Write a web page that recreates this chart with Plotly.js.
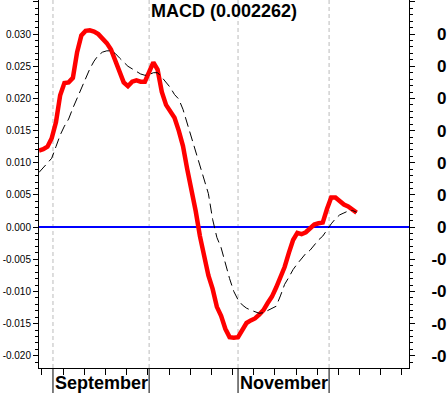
<!DOCTYPE html>
<html><head><meta charset="utf-8">
<script src="https://cdn.plot.ly/plotly-3.0.1.min.js"></script>
<style>html,body{margin:0;padding:0;background:#fff;overflow:hidden}</style>
</head><body><div id="chart" style="width:447px;height:393px"></div>
<script>
// MACD line (red), one value per trading day
const macd = [
  0.0119, 0.0121, 0.0125, 0.0138, 0.0163, 0.0205, 0.0224, 0.0225, 0.0232, 0.0272,
  0.0298, 0.0305, 0.0306, 0.0304, 0.0300, 0.0294, 0.0286, 0.0276, 0.0260, 0.0242,
  0.0225, 0.0219, 0.0226, 0.0228, 0.0226, 0.0226, 0.0242, 0.0256, 0.0245, 0.0210,
  0.0190, 0.0181, 0.0170, 0.0150, 0.0126, 0.0090, 0.0060, 0.0025, -0.0014, -0.0043,
  -0.0075, -0.0096, -0.0124, -0.0138, -0.0158, -0.0171, -0.0172, -0.0171, -0.0160, -0.0149,
  -0.0145, -0.0142, -0.0136, -0.0129, -0.0118, -0.0108, -0.0094, -0.0080, -0.0062, -0.0040,
  -0.0020, -0.0009, -0.0011, -0.0008, -0.0002, 0.0004, 0.0006, 0.0007, 0.0028, 0.0046,
  0.0046, 0.0040, 0.0035, 0.0032, 0.0027, 0.002262
];
// Signal line (black dashed)
const signal = [
  0.0085, 0.0092, 0.0100, 0.0107, 0.0125, 0.0143, 0.0157, 0.0168, 0.0185, 0.0201,
  0.0217, 0.0232, 0.0246, 0.0258, 0.0267, 0.0272, 0.0274, 0.0274, 0.0270, 0.0263,
  0.0256, 0.0250, 0.0246, 0.0242, 0.0238, 0.0236, 0.0237, 0.0240, 0.0240, 0.0233,
  0.0224, 0.0217, 0.0206, 0.0199, 0.0183, 0.0161, 0.0138, 0.0118, 0.0098, 0.0074,
  0.0052, 0.0012, -0.0016, -0.0032, -0.0058, -0.0080, -0.0100, -0.0113, -0.0121, -0.0126,
  -0.0129, -0.0132, -0.0134, -0.0133, -0.0130, -0.0127, -0.0123, -0.0107, -0.0089, -0.0078,
  -0.0066, -0.0057, -0.0049, -0.0041, -0.0036, -0.0028, -0.0020, -0.0014, -0.0004, 0.0005,
  0.0013, 0.0019, 0.0022, 0.0025, 0.0026, 0.0023
];
const titleText = 'MACD (0.002262)';
const yTickVals = [-0.020, -0.015, -0.010, -0.005, 0.000, 0.005, 0.010, 0.015, 0.020, 0.025, 0.030, 0.035];
const yTickText = ['-0.020', '-0.015', '-0.010', '-0.005', '0.000', '0.005', '0.010', '0.015', '0.020', '0.025', '0.030', ''];
const weekTicks = [0.7, 5.7, 10.7, 15.7, 20.7, 25.7, 30.7, 35.7, 40.7, 45.7, 50.7, 55.7, 60.7, 65.7, 70.7, 75.7, 80.7, 85.7];
const monthStarts = [3.3, 26.0, 47.0, 68.5];
const monthLabels = ['September', '', 'November', ''];

const days = macd.map((_, i) => i);
const yRange = [-0.0219, 0.0353];
const xRange = [0, 87.37];
const FONT = 'Liberation Sans, Arial, sans-serif';

const traces = [
  {x: days, y: macd, type: 'scatter', mode: 'lines', line: {color: '#ff0000', width: 4.5}, hoverinfo: 'none', xaxis: 'x', yaxis: 'y'},
  {x: days, y: signal, type: 'scatter', mode: 'lines', line: {color: '#000000', width: 1, dash: '10px,5px'}, hoverinfo: 'none', xaxis: 'x', yaxis: 'y2'}
];

const rightText = yTickText.map(t => t === '' ? '' : (t.startsWith('-') ? t : '<span style="color:#ffffff">-</span>' + t));

const shapes = [];
monthStarts.forEach(m => {
  shapes.push({type: 'line', xref: 'x', yref: 'paper', x0: m, x1: m, y0: 0, y1: 1, layer: 'below',
    line: {color: '#bbbbbb', width: 1, dash: '4px,3px'}});
  shapes.push({type: 'line', xref: 'x', yref: 'paper', x0: m, x1: m, y0: -0.07, y1: 0,
    line: {color: '#000000', width: 1}});
});
const annotations = [];
monthStarts.forEach((m, i) => {
  if (monthLabels[i]) annotations.push({x: m, xref: 'x', y: -0.042, yref: 'paper', xanchor: 'left', yanchor: 'middle',
    xshift: 0, text: '<b>' + monthLabels[i] + '</b>', showarrow: false, font: {family: FONT, size: 18, color: '#000'}});
});

const minor = {tickmode: 'linear', tick0: 0, dtick: 0.001, ticks: 'outside', ticklen: 3, tickcolor: '#000', tickwidth: 1, showgrid: false};

const layout = {
  width: 447, height: 393,
  margin: {l: 39, r: 38, t: 0, b: 25, pad: 0},
  paper_bgcolor: '#ffffff', plot_bgcolor: '#ffffff',
  showlegend: false,
  title: {text: '<b>' + titleText + '</b>', font: {family: FONT, size: 18, color: '#000'},
    xref: 'paper', x: 0.5, xanchor: 'center', yref: 'container', y: 0.99, yanchor: 'top'},
  xaxis: {range: xRange, showgrid: false, zeroline: false, showline: true, linecolor: '#000', linewidth: 1,
    tickmode: 'array', tickvals: weekTicks, ticks: 'outside', ticklen: 6, tickcolor: '#000', showticklabels: false, fixedrange: true},
  yaxis: {range: yRange, showgrid: false, zeroline: true, zerolinecolor: '#0000ff', zerolinewidth: 2,
    showline: true, linecolor: '#000', linewidth: 1, tickmode: 'array', tickvals: yTickVals, ticktext: yTickText,
    ticks: 'outside', ticklen: 5, tickcolor: '#000', tickfont: {family: FONT, size: 10, color: '#000'}, minor: minor},
  yaxis2: {range: yRange, overlaying: 'y', side: 'right', showgrid: false, zeroline: false,
    showline: true, linecolor: '#000', linewidth: 1, tickmode: 'array', tickvals: yTickVals, ticktext: rightText,
    ticks: 'outside', ticklen: 5, tickcolor: '#000', ticklabelstandoff: 13,
    tickfont: {family: FONT, size: 17, color: '#000', weight: 'bold'}, minor: minor},
  shapes: shapes,
  annotations: annotations
};

Plotly.newPlot('chart', traces, layout, {staticPlot: true, displayModeBar: false});
</script>
</body></html>
